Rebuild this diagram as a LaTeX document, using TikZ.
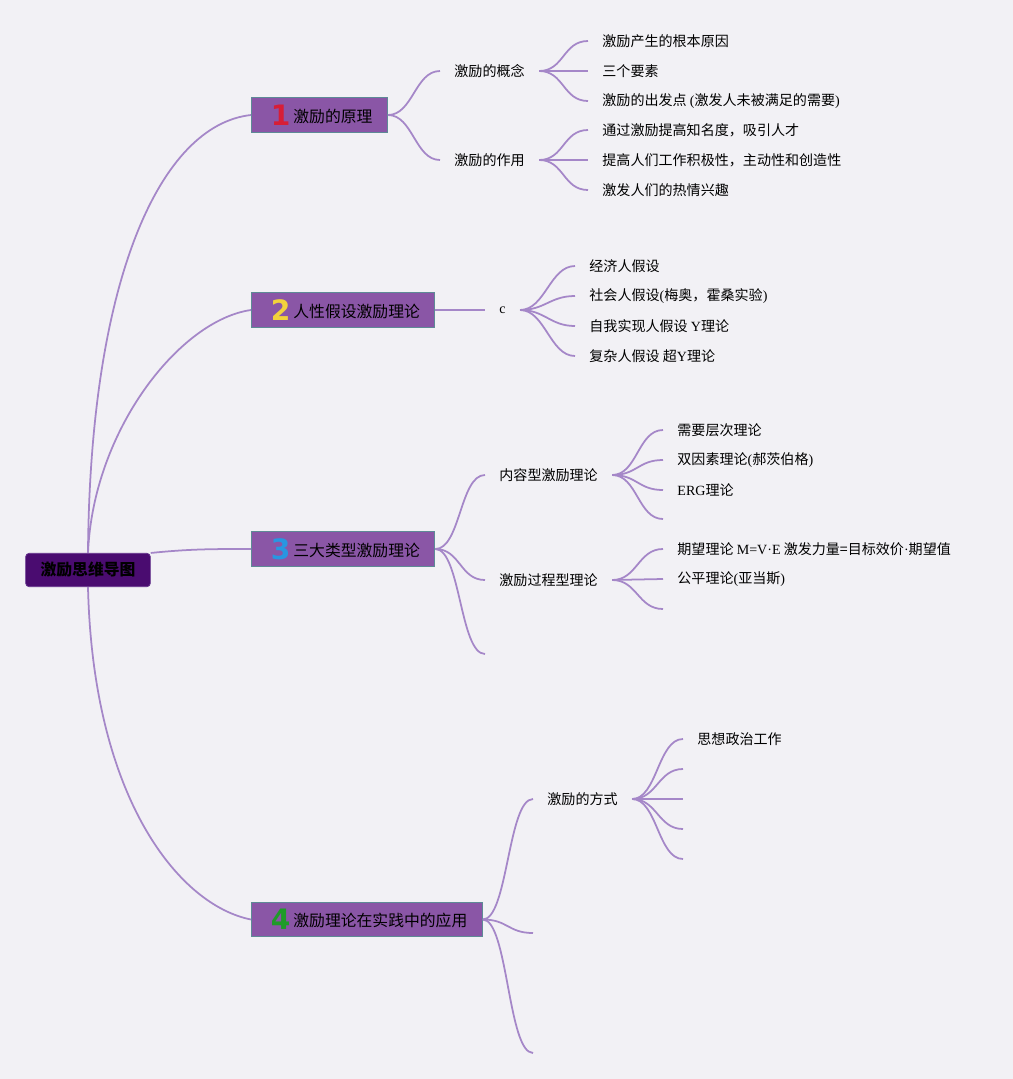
\documentclass[tikz,border=0pt]{standalone}
\usepackage{fontspec}
\usepackage{tikz}
\setmainfont{Liberation Serif}
\newfontfamily\cjk{Noto Sans CJK SC}
\newfontfamily\numfont{DejaVu Sans}
\newcommand{\ltn}[1]{{\rmfamily #1}}
\newcommand{\numtag}[2]{\hspace*{2.5pt}\raisebox{-1.6pt}{\numfont\bfseries\fontsize{16}{16}\selectfont\color{#1}#2}\hspace{1.7pt}}
\definecolor{bgcolor}{RGB}{242,241,245}
\definecolor{rootpurple}{RGB}{74,12,112}
\definecolor{rootedge}{RGB}{100,50,140}
\definecolor{boxpurple}{RGB}{138,86,166}
\definecolor{boxedge}{RGB}{94,138,150}
\definecolor{linepurple}{RGB}{165,135,200}
\definecolor{tagred}{RGB}{215,30,55}
\definecolor{tagyellow}{RGB}{242,210,60}
\definecolor{tagblue}{RGB}{40,150,225}
\definecolor{taggreen}{RGB}{30,155,40}
\tikzstyle{rootnode} = [rectangle, rounded corners=2pt, fill=rootpurple, draw=rootedge, minimum height=19pt, inner xsep=8.5pt, font=\cjk\bfseries\fontsize{9}{10}\selectfont]
\tikzstyle{branch} = [rectangle, anchor=west, fill=boxpurple, draw=boxedge, line width=0.6pt, minimum height=19.5pt, inner xsep=8.5pt, font=\cjk\fontsize{9}{10}\selectfont]
\tikzstyle{sub} = [anchor=west, inner xsep=8pt, font=\cjk\fontsize{8}{9}\selectfont]
\tikzstyle{leaf} = [anchor=west, inner xsep=8pt, font=\cjk\fontsize{8}{9}\selectfont]
\tikzstyle{link} = [draw=linepurple, line width=1pt]
\tikzstyle{mind} = [to path={.. controls +(25,0) and +(-25,0) .. (\tikztotarget)}]

\begin{document}
\begin{tikzpicture}[x=0.02cm, y=-0.02cm]

\useasboundingbox (0,0) rectangle (1013,1079);
\fill [bgcolor] (0,0) rectangle (1013,1079);

% root and main branches
\node (root) [rootnode] at (88,570) {激励思维导图};
\node (b1) [branch] at (251,115) {\numtag{tagred}{1}激励的原理};
\node (b2) [branch] at (251,310) {\numtag{tagyellow}{2}人性假设激励理论};
\node (b3) [branch] at (251,549) {\numtag{tagblue}{3}三大类型激励理论};
\node (b4) [branch] at (251,919.5) {\numtag{taggreen}{4}激励理论在实践中的应用};

% second level
\node (k11) [sub] at (440,71) {激励的概念};
\node (k12) [sub] at (440,160) {激励的作用};
\node (k21) [sub] at (485,310) {\ltn{c}};
\node (k31) [sub] at (485,475) {内容型激励理论};
\node (k32) [sub] at (485,580) {激励过程型理论};
\coordinate (c33) at (485,654);
\node (k41) [sub] at (533,799) {激励的方式};
\coordinate (c42) at (533,933);
\coordinate (c43) at (533,1053);

% leaves
\node (l111) [leaf] at (588,41) {激励产生的根本原因};
\node (l112) [leaf] at (588,71) {三个要素};
\node (l113) [leaf] at (588,101) {激励的出发点 \ltn{(}激发人未被满足的需要\ltn{)}};
\node (l121) [leaf] at (588,130) {通过激励提高知名度，吸引人才};
\node (l122) [leaf] at (588,160) {提高人们工作积极性，主动性和创造性};
\node (l123) [leaf] at (588,190) {激发人们的热情兴趣};
\node (l211) [leaf] at (575,266) {经济人假设};
\node (l212) [leaf] at (575,296) {社会人假设\ltn{(}梅奥，霍桑实验\ltn{)}};
\node (l213) [leaf] at (575,326) {自我实现人假设 \ltn{Y}理论};
\node (l214) [leaf] at (575,356) {复杂人假设 超\ltn{Y}理论};
\node (l311) [leaf] at (663,430) {需要层次理论};
\node (l312) [leaf] at (663,460) {双因素理论\ltn{(}郝茨伯格\ltn{)}};
\node (l313) [leaf] at (663,490) {\ltn{ERG}理论};
\coordinate (c314) at (663,519);
\node (l321) [leaf] at (663,549) {期望理论 \ltn{M=V·E} 激发力量=目标效价\ltn{·}期望值};
\node (l322) [leaf] at (663,579) {公平理论\ltn{(}亚当斯\ltn{)}};
\coordinate (c323) at (663,609);
\node (l411) [leaf] at (683,739) {思想政治工作};
\coordinate (c412) at (683,769);
\coordinate (c413) at (683,799);
\coordinate (c414) at (683,829);
\coordinate (c415) at (683,859);

% root links
\draw [link] (root.north) .. controls +(2,-273) and +(-91,10) .. (b1.west);
\draw [link] (root.north) .. controls +(5,-123) and +(-71,10) .. (b2.west);
\draw [link] (root.north east) .. controls +(40,-4) and +(-40,0) .. (b3.west);
\draw [link] (root.south) .. controls +(5,213) and +(-71,-14) .. (b4.west);

% branch links
\draw [link] (b1.east) to[mind] (k11.west);
\draw [link] (b1.east) to[mind] (k12.west);
\draw [link] (b2.east) -- (k21.west);
\draw [link] (b3.east) to[mind] (k31.west);
\draw [link] (b3.east) to[mind] (k32.west);
\draw [link] (b3.east) to[mind] (c33);
\draw [link] (b4.east) to[mind] (k41.west);
\draw [link] (b4.east) to[mind] (c42);
\draw [link] (b4.east) to[mind] (c43);

% leaf links
\foreach \l in {l111, l112, l113} \draw [link] (k11.east) to[mind] (\l.west);
\foreach \l in {l121, l122, l123} \draw [link] (k12.east) to[mind] (\l.west);
\foreach \l in {l211, l212, l213, l214} \draw [link] (k21.east) to[mind] (\l.west);
\foreach \l in {l311, l312, l313} \draw [link] (k31.east) to[mind] (\l.west);
\draw [link] (k31.east) to[mind] (c314);
\foreach \l in {l321, l322} \draw [link] (k32.east) to[mind] (\l.west);
\draw [link] (k32.east) to[mind] (c323);
\draw [link] (k41.east) to[mind] (l411.west);
\foreach \c in {c412, c413, c414, c415} \draw [link] (k41.east) to[mind] (\c);

\end{tikzpicture}
\end{document}
